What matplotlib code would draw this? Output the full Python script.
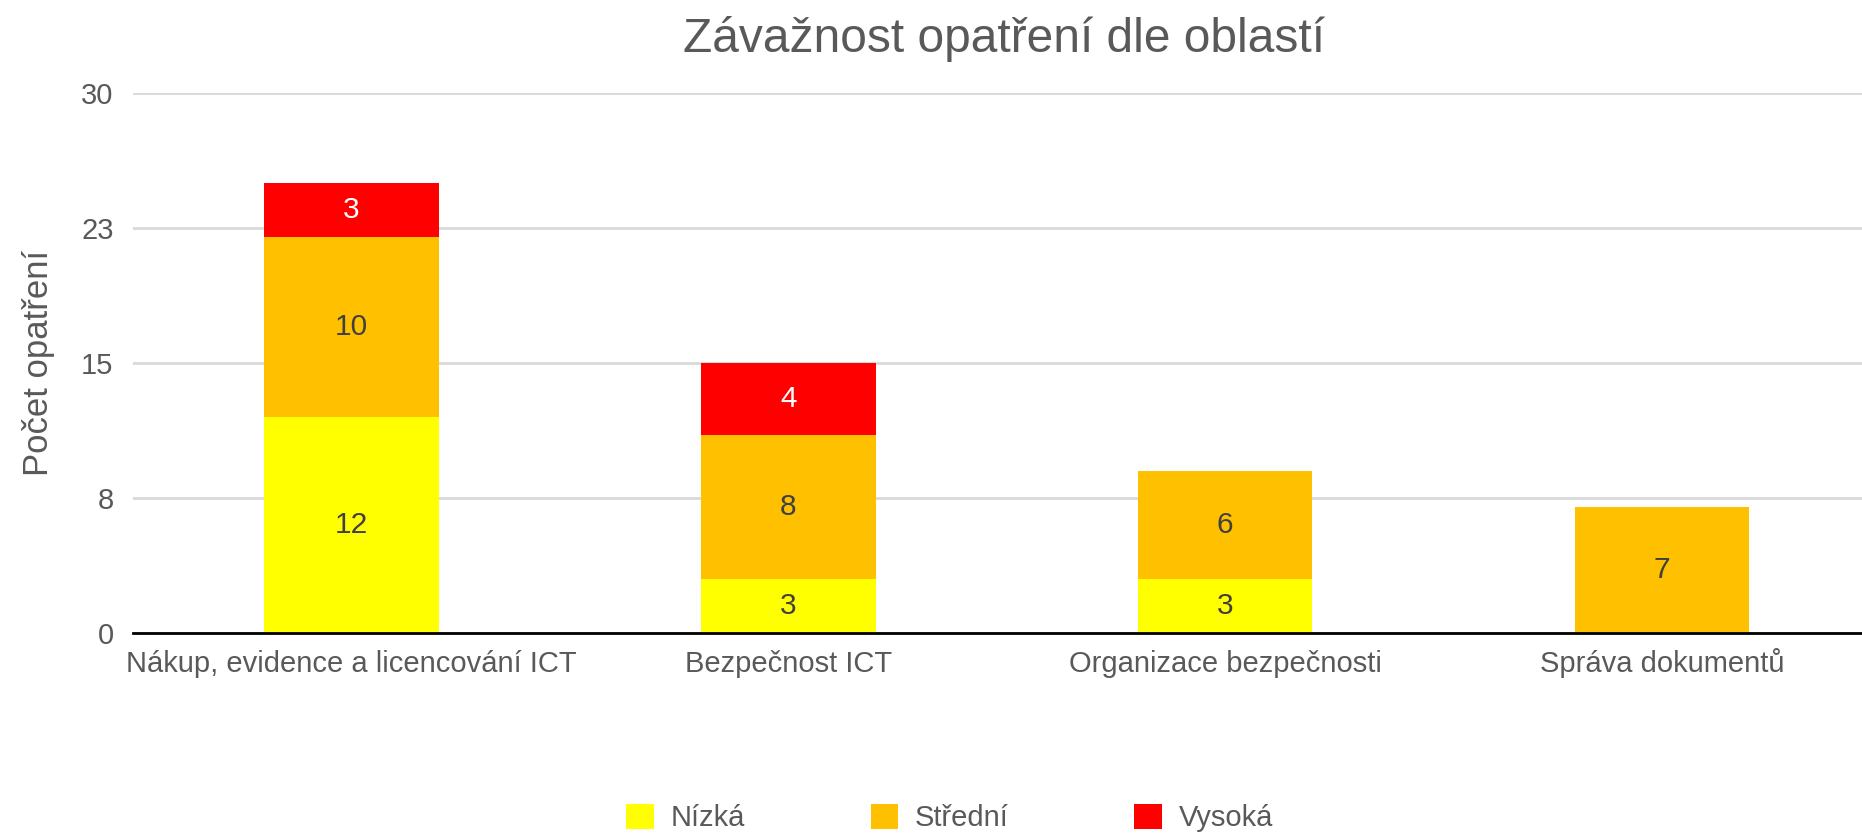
import matplotlib.pyplot as plt
import numpy as np

# data
oblasti = ['Nákup, evidence a licencování ICT', 'Bezpečnost ICT',
           'Organizace bezpečnosti', 'Správa dokumentů']
nizka = [12, 3, 3, 0]
stredni = [10, 8, 6, 7]
vysoka = [3, 4, 0, 0]
serie = ['Nízká', 'Střední', 'Vysoká']
barvy = ['#FFFF00', '#FFC000', '#FF0000']
y_ticks = [0, 7.5, 15, 22.5, 30]
y_labels = ['0', '8', '15', '23', '30']

plt.rcParams['font.family'] = ['Liberation Sans', 'DejaVu Sans']
GRAY = '#595959'

fig = plt.figure(figsize=(18.62, 8.34), dpi=100)
ax = fig.add_axes([0.0714, 0.241, 0.9286, 0.648])

x = np.arange(len(oblasti))
w = 0.4
spodek = np.zeros(len(oblasti))
for hodnoty, jmeno, barva in zip([nizka, stredni, vysoka], serie, barvy):
    hodnoty = np.array(hodnoty, dtype=float)
    ax.bar(x, hodnoty, w, bottom=spodek, color=barva, label=jmeno, zorder=3)
    for i, v in enumerate(hodnoty):
        if v > 0:
            c = 'white' if barva == '#FF0000' else '#404040'
            ax.text(x[i], spodek[i] + v / 2, '%d' % v, ha='center', va='center',
                    fontsize=21.5, color=c, zorder=4)
    spodek += hodnoty

ax.set_xlim(-0.5, 3.458)
ax.set_ylim(0, 30)
ax.set_yticks(y_ticks)
ax.set_yticklabels(y_labels)
ax.set_xticks(x)
ax.set_xticklabels(oblasti, va='baseline')
ax.tick_params(axis='both', length=0, labelsize=21, colors=GRAY)
ax.tick_params(axis='y', pad=14)
ax.tick_params(axis='x', pad=28)
ax.grid(axis='y', color='#d9d9d9', linewidth=2, zorder=0)
for s in ['top', 'right', 'left']:
    ax.spines[s].set_visible(False)
ax.spines['bottom'].set_color('black')
ax.spines['bottom'].set_linewidth(2)
ax.spines['bottom'].set_zorder(5)

ax.set_ylabel('Počet opatření', fontsize=25, color=GRAY)
ax.yaxis.set_label_coords(-0.045, 0.5)
fig.text(0.539, 0.953, 'Závažnost opatření dle oblastí', ha='center', va='center',
         fontsize=34.5, color=GRAY)

fig.legend(loc='center', bbox_to_anchor=(0.51, 0.019), ncol=3, frameon=False,
           fontsize=21, handlelength=0.95, handleheight=0.95, handletextpad=0.57,
           columnspacing=4.3, labelcolor=GRAY)

fig.savefig('out.png', dpi=100)
